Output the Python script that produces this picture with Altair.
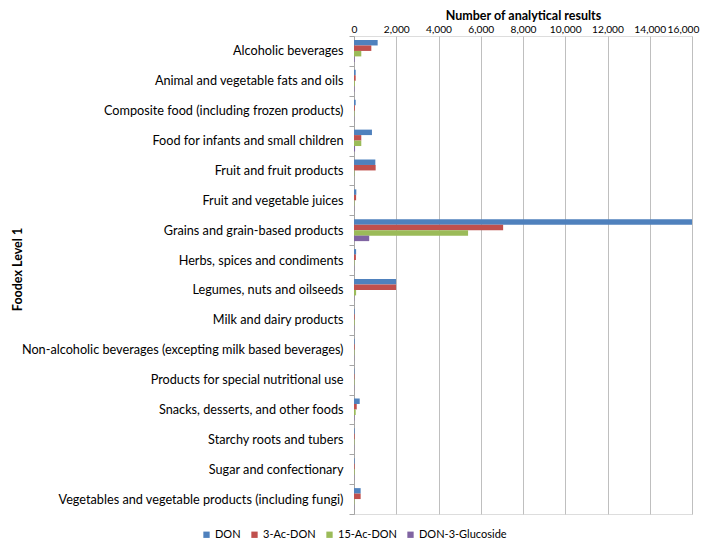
import altair as alt
import pandas as pd

categories = [
    "Alcoholic beverages",
    "Animal and vegetable fats and oils",
    "Composite food (including frozen products)",
    "Food for infants and small children",
    "Fruit and fruit products",
    "Fruit and vegetable juices",
    "Grains and grain-based products",
    "Herbs, spices and condiments",
    "Legumes, nuts and oilseeds",
    "Milk and dairy products",
    "Non-alcoholic beverages (excepting milk based beverages)",
    "Products for special nutritional use",
    "Snacks, desserts, and other foods",
    "Starchy roots and tubers",
    "Sugar and confectionary",
    "Vegetables and vegetable products (including fungi)",
]
series = ["DON", "3-Ac-DON", "15-Ac-DON", "DON-3-Glucoside"]
colors = ["#4F81BD", "#C0504D", "#9BBB59", "#8064A2"]

don = [1120, 80, 80, 850, 1010, 110, 16000, 100, 1990, 30, 30, 20, 270, 30, 30, 315]
ac3 = [820, 80, 40, 345, 1025, 100, 7060, 90, 1990, 30, 30, 20, 130, 30, 30, 315]
ac15 = [345, 40, 20, 345, 20, 20, 5400, 20, 100, 30, 20, 20, 80, 20, 30, 20]
glc = [30, 20, 10, 50, 0, 10, 720, 10, 10, 10, 10, 10, 20, 10, 10, 10]

rows = []
for s, vals in zip(series, [don, ac3, ac15, glc]):
    for c, v in zip(categories, vals):
        rows.append({"Category": c, "Series": s, "Value": v})
df = pd.DataFrame(rows)

font = "Lato"

chart = alt.Chart(df).mark_bar().encode(
    x=alt.X(
        "Value:Q",
        scale=alt.Scale(domain=[0, 16000], nice=False),
        axis=alt.Axis(
            orient="top",
            title="Number of analytical results",
            values=list(range(0, 16001, 2000)),
            format=",d",
            ticks=False,
            domain=False,
            grid=True,
            gridColor="#BFBFBF",
            gridWidth=1,
            labelFont=font,
            labelFontSize=10.2,
            labelColor="#000000",
            labelPadding=2,
            labelOverlap=False,
            labelFlush=False,
            labelBound=False,
            labelOffset={"condition": {"test": "datum.value == 16000", "value": -9}, "value": 0},
            titleFont=font,
            titleFontSize=12.5,
            titleFontWeight="bold",
            titleColor="#000000",
            titlePadding=2,
        ),
    ),
    y=alt.Y(
        "Category:N",
        sort=categories,
        scale=alt.Scale(paddingInner=0, paddingOuter=0),
        axis=alt.Axis(
            title="Foodex Level 1",
            tickBand="extent",
            tickSize=5,
            tickColor="#A6A6A6",
            domainColor="#A6A6A6",
            labelFont=font,
            labelFontSize=12.7,
            labelColor="#000000",
            labelPadding=6,
            labelLimit=400,
            titleFont=font,
            titleFontSize=12.5,
            titleFontWeight="bold",
            titleColor="#000000",
            titleX=-330,
            titleY=233,
            titleAngle=-90,
            titleAlign="center",
            titleBaseline="bottom",
        ),
    ),
    yOffset=alt.YOffset(
        "Series:N",
        sort=series,
        scale=alt.Scale(paddingInner=0, paddingOuter=0.73),
    ),
    color=alt.Color(
        "Series:N",
        sort=series,
        scale=alt.Scale(domain=series, range=colors),
        legend=alt.Legend(
            title=None,
            orient="none",
            direction="horizontal",
            legendX=-153,
            legendY=493,
            symbolType="square",
            symbolSize=40,
            symbolStrokeWidth=0,
            labelFont=font,
            labelFontSize=11,
            labelColor="#000000",
            columnPadding=8,
            labelOffset=3,
        ),
    ),
).properties(
    width=338,
    height=478,
    padding={"left": 346, "top": 28, "right": 9, "bottom": 26},
    autosize=alt.AutoSizeParams(type="none"),
).configure_view(stroke=None).configure(background="white")

chart.save("out.html", embed_options={"renderer": "svg", "actions": False})
